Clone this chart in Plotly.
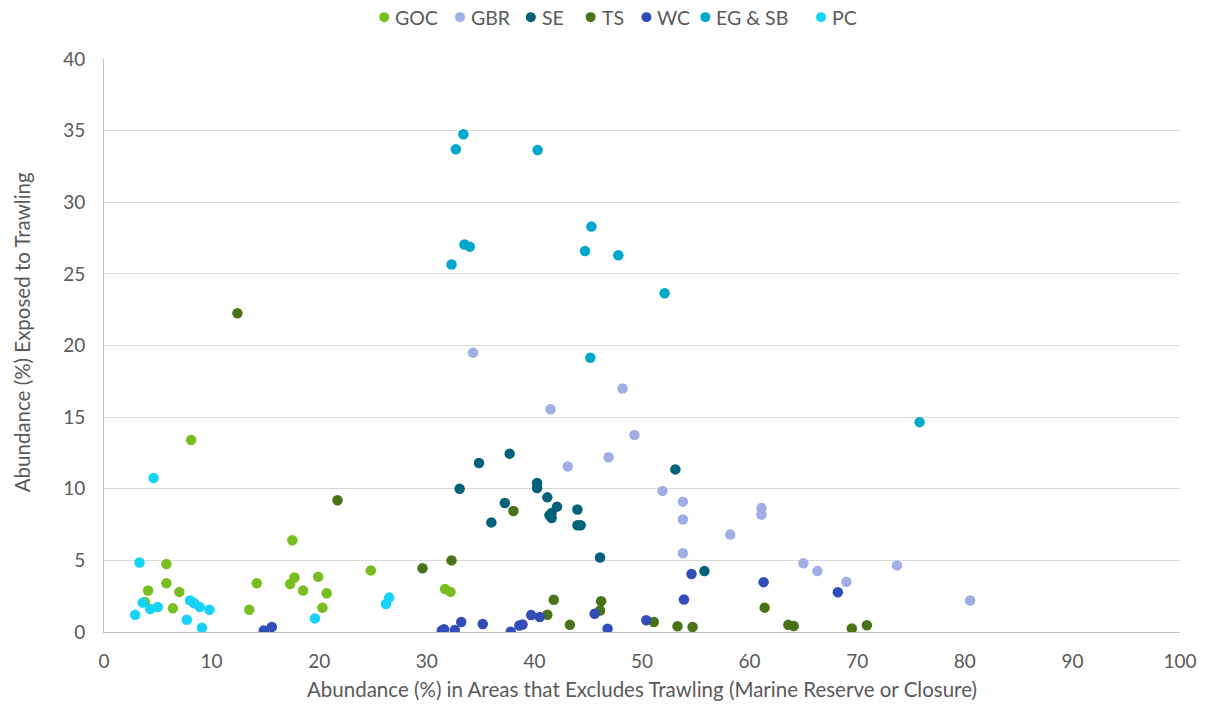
import plotly.graph_objects as go

# Abundance (%) in no-trawl areas (x) vs. abundance (%) exposed to trawling (y), by region
goc_x = [8.1, 17.5, 5.8, 5.8, 4.1, 7.0, 3.8, 6.4, 14.2, 13.5, 17.7, 17.3, 19.9, 18.5, 20.7, 20.3, 24.8, 31.7, 32.2]
goc_y = [13.4, 6.4, 4.75, 3.4, 2.9, 2.8, 2.1, 1.65, 3.4, 1.55, 3.8, 3.35, 3.85, 2.9, 2.7, 1.7, 4.3, 3.0, 2.8]

gbr_x = [34.3, 48.2, 41.5, 49.3, 46.9, 43.1, 51.9, 53.8, 53.8, 53.8, 58.2, 61.1, 61.1, 65.0, 66.3, 69.0, 73.7, 80.5]
gbr_y = [19.5, 17.0, 15.55, 13.75, 12.2, 11.55, 9.85, 9.1, 7.85, 5.5, 6.8, 8.65, 8.2, 4.8, 4.25, 3.5, 4.65, 2.2]

se_x = [34.85, 37.7, 33.05, 40.25, 40.25, 41.2, 37.25, 36.0, 42.1, 41.6, 41.4, 41.6, 44.0, 44.0, 44.3, 53.1, 46.1, 55.8]
se_y = [11.8, 12.45, 10.0, 10.4, 10.05, 9.4, 9.0, 7.65, 8.75, 8.3, 8.15, 7.95, 8.55, 7.45, 7.45, 11.35, 5.2, 4.25]

ts_x = [12.4, 21.7, 38.05, 29.6, 32.3, 41.8, 41.2, 43.3, 46.2, 46.1, 51.1, 53.3, 54.7, 61.4, 63.6, 64.1, 69.5, 70.9]
ts_y = [22.25, 9.2, 8.45, 4.45, 5.0, 2.25, 1.2, 0.5, 2.15, 1.5, 0.7, 0.4, 0.35, 1.7, 0.5, 0.42, 0.25, 0.47]

wc_x = [14.85, 15.6, 31.4, 31.6, 32.6, 33.2, 35.2, 37.8, 38.6, 38.9, 39.7, 40.5, 45.6, 46.8, 50.4, 53.9, 54.6, 61.3, 68.2]
wc_y = [0.1, 0.35, 0.1, 0.2, 0.14, 0.7, 0.56, 0.02, 0.45, 0.52, 1.18, 1.05, 1.27, 0.23, 0.82, 2.27, 4.05, 3.48, 2.78]

egsb_x = [33.4, 32.7, 40.3, 45.3, 33.5, 34.0, 44.7, 47.8, 32.3, 52.1, 45.2, 75.8]
egsb_y = [34.75, 33.7, 33.65, 28.3, 27.05, 26.9, 26.6, 26.3, 25.65, 23.65, 19.15, 14.65]

pc_x = [4.6, 3.3, 3.6, 2.9, 4.3, 5.0, 8.0, 8.4, 8.9, 9.8, 7.7, 9.1, 19.6, 26.5, 26.2]
pc_y = [10.75, 4.85, 2.05, 1.2, 1.6, 1.75, 2.2, 2.0, 1.75, 1.55, 0.85, 0.3, 0.95, 2.4, 1.95]

series_names = ["GOC", "GBR", "SE", "TS", "WC", "EG & SB", "PC"]
series_x = [goc_x, gbr_x, se_x, ts_x, wc_x, egsb_x, pc_x]
series_y = [goc_y, gbr_y, se_y, ts_y, wc_y, egsb_y, pc_y]
series_colors = ["#78BE21", "#A1AEE5", "#00627A", "#4A7318", "#314EB8", "#00A8CC", "#17D3F8"]

font_family = "Lato, 'Open Sans', sans-serif"
text_gray = "#595959"

# plot area in pixels
W, H = 1209, 709
ML, MR, MT, MB = 104, 26, 59, 75
PW, PH = W - ML - MR, H - MT - MB


def px_to_paper_x(px):
    return (px - ML) / PW


def px_to_paper_y(py):
    return (H - MB - py) / PH


fig = go.Figure()
for name, xs, ys, color in zip(series_names, series_x, series_y, series_colors):
    fig.add_trace(go.Scatter(
        x=xs, y=ys, mode="markers", name=name,
        marker=dict(size=10.5, color=color, line=dict(width=0)),
    ))

# compact top legend: colored dot followed by the series name
legend_dot_px = [385, 461, 532, 592, 648, 707, 823]
legend_y = px_to_paper_y(17)
shapes, annotations = [], []
for name, color, px in zip(series_names, series_colors, legend_dot_px):
    shapes.append(dict(
        type="circle", xref="paper", yref="paper",
        xsizemode="pixel", ysizemode="pixel",
        xanchor=px_to_paper_x(px), yanchor=legend_y, x0=-5, x1=5, y0=-5, y1=5,
        fillcolor=color, line=dict(width=0),
    ))
    annotations.append(dict(
        text=name, xref="paper", yref="paper",
        x=px_to_paper_x(px + 9), y=legend_y, xanchor="left", yanchor="middle",
        showarrow=False, font=dict(size=19.5, color=text_gray, family=font_family),
    ))

# vertical axis title
annotations.append(dict(
    text="Abundance (%) Exposed to Trawling", xref="paper", yref="paper",
    x=px_to_paper_x(22), y=px_to_paper_y(333), xanchor="center", yanchor="middle",
    textangle=-90, showarrow=False,
    font=dict(size=20.5, color=text_gray, family=font_family),
))

fig.update_layout(
    width=W, height=H,
    margin=dict(l=ML, r=MR, t=MT, b=MB),
    paper_bgcolor="white", plot_bgcolor="white",
    font=dict(family=font_family, color=text_gray, size=19),
    showlegend=False,
    shapes=shapes, annotations=annotations,
    xaxis=dict(
        range=[0, 100], dtick=10, showgrid=False, zeroline=False,
        showline=True, linecolor="#BFBFBF", linewidth=1,
        ticks="", ticklabelstandoff=12, tickfont=dict(size=19, color=text_gray),
        title=dict(text="Abundance (%) in Areas that Excludes Trawling (Marine Reserve or Closure)",
                   font=dict(size=20.5, color=text_gray), standoff=11),
    ),
    yaxis=dict(
        range=[0, 40], dtick=5, showgrid=True, gridcolor="#D9D9D9", gridwidth=1,
        zeroline=False, showline=True, linecolor="#BFBFBF", linewidth=1,
        ticks="", ticklabelstandoff=14, tickfont=dict(size=19, color=text_gray),
    ),
)

fig.write_html("out.html")
